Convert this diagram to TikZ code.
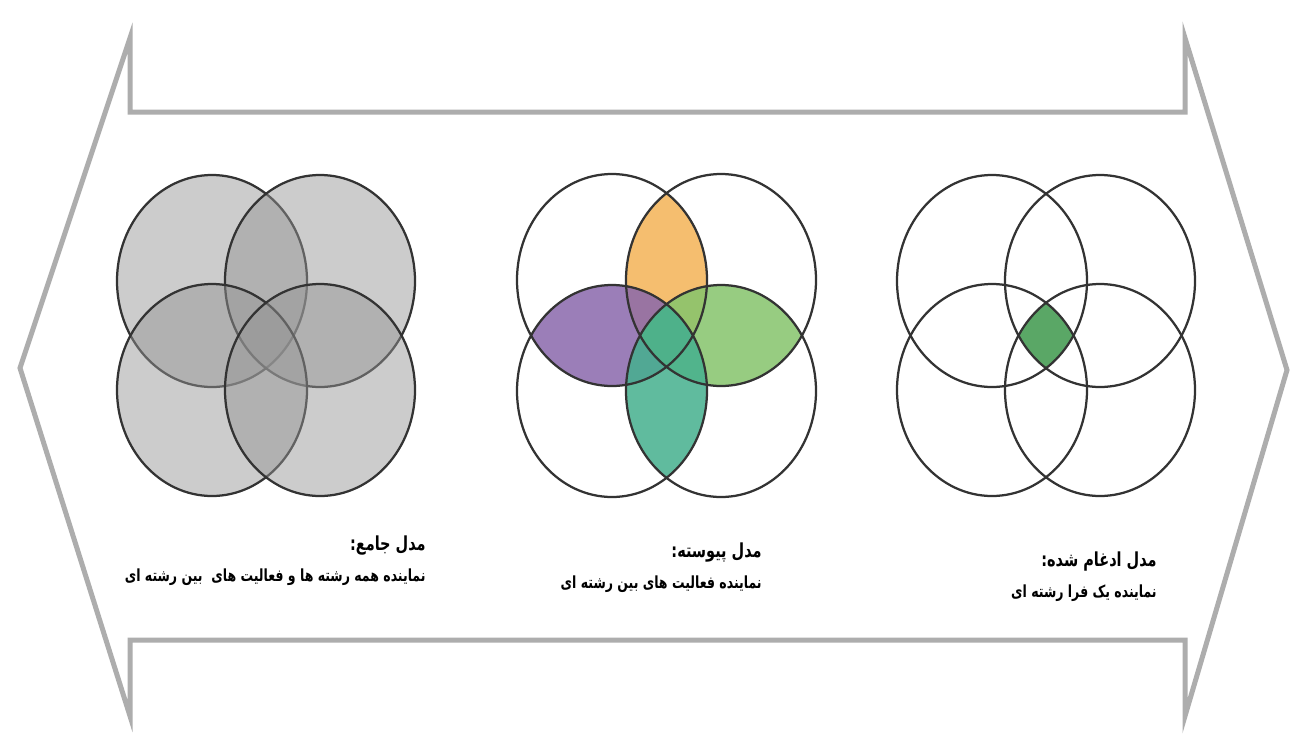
\documentclass[tikz,border=0pt]{standalone}
\usepackage{fontspec}
\usepackage{tikz}
\usetikzlibrary{positioning}
\TeXXeTstate=1
\newfontfamily\farsi[Script=Arabic, FakeStretch=0.75]{DejaVu Sans}
\definecolor{ArrowGray}{HTML}{ADADAD}
\definecolor{RingBlack}{HTML}{333333}
\definecolor{DiscGray}{HTML}{959595}
\definecolor{LensOrange}{HTML}{F4B860}
\definecolor{LensPurple}{HTML}{8A68AC}
\definecolor{LensGreen}{HTML}{85C46C}
\definecolor{LensTeal}{HTML}{45B08E}
\definecolor{CoreGreen}{HTML}{5AA766}

\tikzset{
    ring/.style={draw=RingBlack, line width=0.045cm},
    arrowline/.style={draw=ArrowGray, line width=0.1cm, line join=miter},
    modeltitle/.style={anchor=east, inner sep=0pt, font=\farsi\bfseries\fontsize{11}{13}\selectfont},
    modeltext/.style={inner sep=0pt, font=\farsi\bfseries\fontsize{9.5}{11}\selectfont}
}

\begin{document}
\begin{tikzpicture}[x=0.02cm, y=-0.02cm]
    \fill[white] (0,0) rectangle (1295,734);
    \useasboundingbox (0,0) rectangle (1295,734);
    \def\rx{95}
    \def\ry{106}

    % double arrow outline
    \draw[arrowline] (20,368) -- (130,38) -- (130,112) -- (1185,112) -- (1185,38)
        -- (1287,370) -- (1185,716) -- (1185,640) -- (130,640) -- (130,716) -- cycle;

    % comprehensive model
    \foreach \cx/\cy in {212/281, 320/281, 212/390, 320/390}
        \filldraw[ring, fill=DiscGray, fill opacity=0.48] (\cx,\cy) ellipse [x radius=\rx, y radius=\ry];

    % continuous model
    \begin{scope}
        \clip (612,280) ellipse [x radius=\rx, y radius=\ry];
        \fill[LensOrange, fill opacity=0.9] (721,280) ellipse [x radius=\rx, y radius=\ry];
    \end{scope}
    \begin{scope}
        \clip (612,280) ellipse [x radius=\rx, y radius=\ry];
        \fill[LensPurple, fill opacity=0.85] (612,391) ellipse [x radius=\rx, y radius=\ry];
    \end{scope}
    \begin{scope}
        \clip (721,280) ellipse [x radius=\rx, y radius=\ry];
        \fill[LensGreen, fill opacity=0.85] (721,391) ellipse [x radius=\rx, y radius=\ry];
    \end{scope}
    \begin{scope}
        \clip (612,391) ellipse [x radius=\rx, y radius=\ry];
        \fill[LensTeal, fill opacity=0.85] (721,391) ellipse [x radius=\rx, y radius=\ry];
    \end{scope}
    \foreach \cx/\cy in {612/280, 721/280, 612/391, 721/391}
        \draw[ring] (\cx,\cy) ellipse [x radius=\rx, y radius=\ry];

    % merged model
    \begin{scope}
        \clip (992,281) ellipse [x radius=\rx, y radius=\ry];
        \clip (1100,281) ellipse [x radius=\rx, y radius=\ry];
        \clip (992,390) ellipse [x radius=\rx, y radius=\ry];
        \fill[CoreGreen] (1100,390) ellipse [x radius=\rx, y radius=\ry];
    \end{scope}
    \foreach \cx/\cy in {992/281, 1100/281, 992/390, 1100/390}
        \draw[ring] (\cx,\cy) ellipse [x radius=\rx, y radius=\ry];

    % labels
    \node[modeltitle] (jame) at (426,546) {\beginR مدل جامع:\endR};
    \node[modeltext, below=7pt of jame.south east, anchor=north east] (jametext) {\beginR نماینده همه رشته ها و فعالیت های \ بین رشته ای\endR};
    \node[modeltitle] (peyvaste) at (762,553) {\beginR مدل پیوسته:\endR};
    \node[modeltext, below=7pt of peyvaste.south east, anchor=north east] (peyvastetext) {\beginR نماینده فعالیت های بین رشته ای\endR};
    \node[modeltitle] (edgham) at (1157,562) {\beginR مدل ادغام شده:\endR};
    \node[modeltext, below=7pt of edgham.south east, anchor=north east] (edghamtext) {\beginR نماینده یک فرا رشته ای\endR};
\end{tikzpicture}
\end{document}
